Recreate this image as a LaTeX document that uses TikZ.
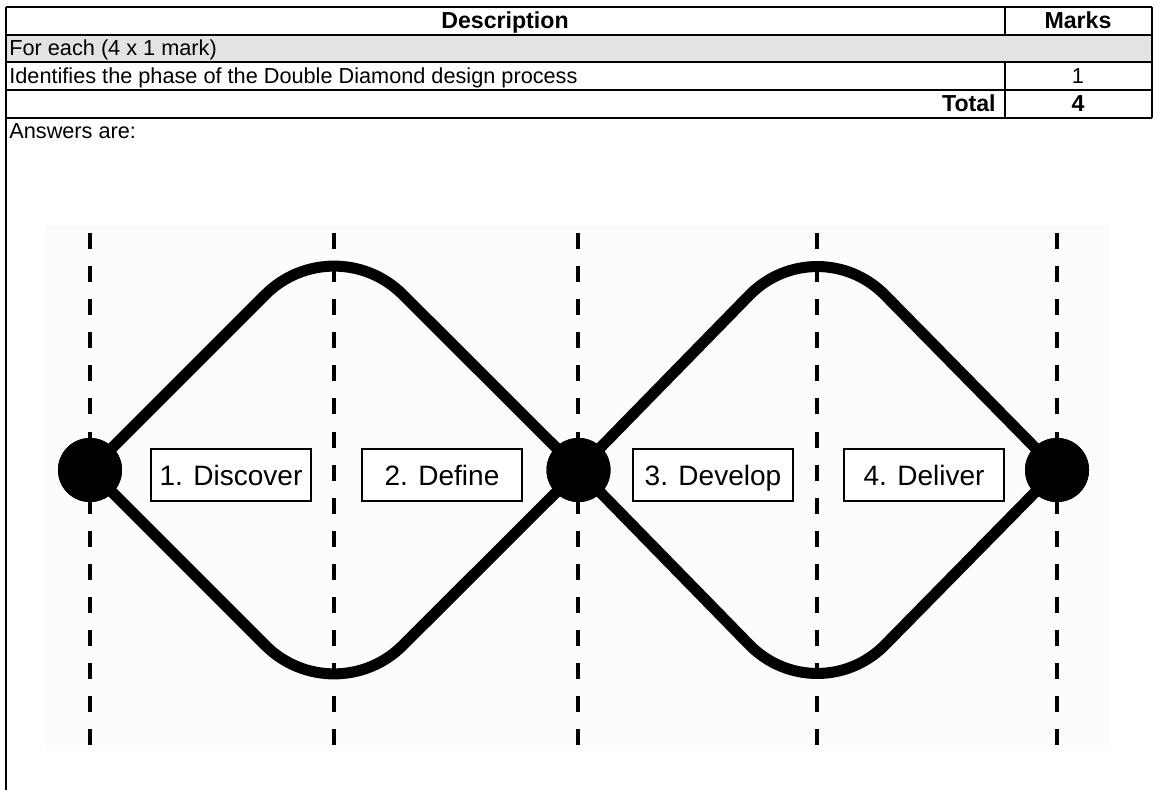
\documentclass[tikz,border=0pt]{standalone}
\usepackage{fontspec}
\setmainfont{Liberation Sans}
\usetikzlibrary{positioning}
\definecolor{ink}{HTML}{000000}
\definecolor{rowshade}{HTML}{E3E3E3}
\definecolor{paper}{HTML}{FCFCFC}
\tikzset{
  rule/.style={draw=ink, line width=0.9pt},
  heavyrule/.style={draw=ink, line width=1.5pt},
  cell/.style={inner sep=0pt, font=\fontsize{12}{14}\selectfont, anchor=base},
  cellhead/.style={cell, font=\fontsize{12.8}{14}\selectfont\bfseries},
  guide/.style={draw=ink, line width=2.5pt, dash pattern=on 8.85pt off 9.45pt},
  arm/.style={draw=ink, line width=6.1pt, rounded corners=53.6pt},
  hub/.style={circle, fill=ink, minimum size=35.4pt, inner sep=0pt},
  phase/.style={draw=ink, fill=white, line width=1.1pt, minimum width=88.5pt,
                minimum height=28.8pt, inner sep=0pt, text height=11.1pt, text depth=0pt,
                font=\fontsize{15.5}{18}\selectfont}
}

\begin{document}
\begin{tikzpicture}[x=0.553pt, y=-0.553pt]
  \useasboundingbox (0,0) rectangle (1157,790);

  %% Marking table
  \fill[rowshade] (6,35) rectangle (1152,62);
  \draw[rule] (6,35) -- (1152,35);
  \draw[rule] (6,62) -- (1152,62);
  \draw[rule] (6,90) -- (1152,90);
  \draw[heavyrule] (6,7) -- (1152,7);
  \draw[heavyrule] (6,118) -- (1152,118);
  \draw[rule] (6,7) -- (6,790);
  \draw[rule] (1152,7) -- (1152,118);
  \draw[rule] (1005,7) -- (1005,35);
  \draw[rule] (1005,62) -- (1005,118);

  \node[cellhead] (desc) at (505,28.5) {Description};
  \node[cellhead] (marks) at (1078,28.5) {Marks};
  \node[cell, anchor=base west] (each) at (9,56) {For each (4 x 1 mark)};
  \node[cell, anchor=base west] (ident) at (9,83.5) {Identifies the phase of the Double Diamond design process};
  \node[cell] (one) at (1078,83.5) {1};
  \node[cellhead, anchor=base east] (total) at (996,111.5) {Total};
  \node[cellhead] (four) at (1078,111.5) {4};
  \node[cell, anchor=base west] (answers) at (9,139) {Answers are:};

  %% Double diamond
  \fill[paper] (45,225) rectangle (1110,750);
  \foreach \x in {90,334,578,817,1057}
    \draw[guide] (\x,233) -- (\x,746);

  \coordinate (top1) at (334,226);
  \coordinate (bot1) at (334,714);
  \coordinate (top2) at (817,226);
  \coordinate (bot2) at (817,714);
  \node[hub] (start) at (90,470) {};
  \node[hub] (mid) at (578.5,470) {};
  \node[hub] (finish) at (1057,470) {};

  \draw[arm] (start.center) -- (top1) -- (mid.center);
  \draw[arm] (start.center) -- (bot1) -- (mid.center);
  \draw[arm] (mid.center) -- (top2) -- (finish.center);
  \draw[arm] (mid.center) -- (bot2) -- (finish.center);
  \node[hub] at (start) {};
  \node[hub] at (mid) {};
  \node[hub] at (finish) {};

  \node[phase] (discover) at (231,475) {1. Discover};
  \node[phase] (define) at (442,475) {2. Define};
  \node[phase] (develop) at (713,475) {3. Develop};
  \node[phase] (deliver) at (924,475) {4. Deliver};

\end{tikzpicture}
\end{document}
